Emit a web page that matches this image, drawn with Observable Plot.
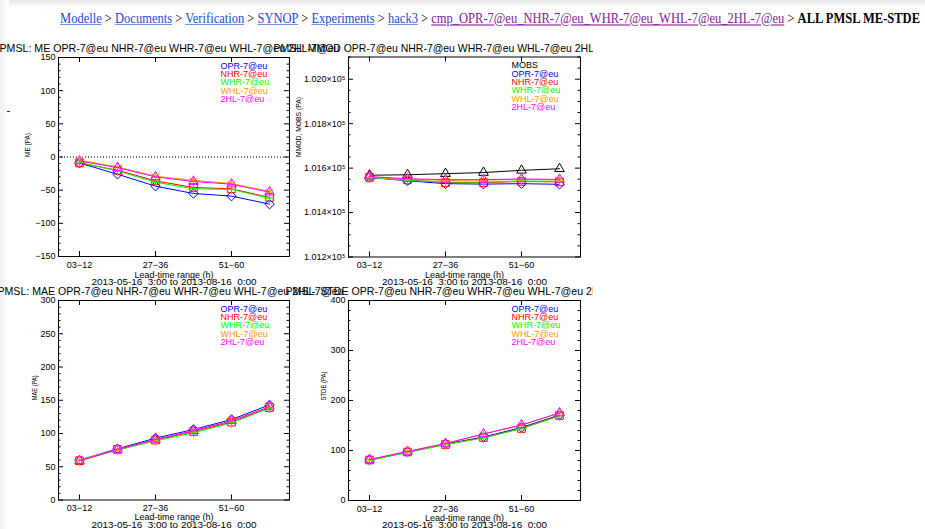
<!DOCTYPE html>
<html><head><meta charset="utf-8">
<script src="https://cdn.jsdelivr.net/npm/d3@7"></script>
<script src="https://cdn.jsdelivr.net/npm/@observablehq/plot@0.6"></script>
<style>
html,body{margin:0;padding:0;background:#fff;}
#page{position:relative;width:925px;height:529px;overflow:hidden;background:#fff;}
#topshade{position:absolute;left:0;top:0;width:925px;height:7px;background:linear-gradient(#e6e6e6,#ffffff);}
#leftshade{position:absolute;left:0;top:0;width:9px;height:529px;background:linear-gradient(to right,#efefef,#ffffff);}
#crumb{position:absolute;left:60px;top:9px;font-family:"Liberation Serif","Times New Roman",serif;font-size:15px;line-height:18px;white-space:nowrap;transform-origin:0 0;color:#000;}
#crumb a{color:#1a4bd1;text-decoration:underline;text-decoration-color:#6f95e6;}
#crumb a.v{color:#7d2291;text-decoration-color:#c27fd0;text-decoration-thickness:2px;}
#crumb b{font-weight:bold;}
.panel{position:absolute;}
#dash{position:absolute;left:7px;top:111px;width:3px;height:1px;background:#333;}
</style></head>
<body>
<div id="page">
  <div id="topshade"></div>
  <div id="leftshade"></div>
  <div id="crumb"><a>Modelle</a> &gt; <a>Documents</a> &gt; <a>Verification</a> &gt; <a>SYNOP</a> &gt; <a>Experiments</a> &gt; <a>hack3</a> &gt; <a class="v">cmp_OPR-7@eu_NHR-7@eu_WHR-7@eu_WHL-7@eu_2HL-7@eu</a> &gt; <b>ALL PMSL ME-STDE</b></div>
  <div id="dash"></div>
</div>
<script>
// ---------- data ----------
const leadRanges = ["03-12", "15-24", "27-36", "39-48", "51-60", "63-72"];
const labeledLeads = ["03-12", "27-36", "51-60"];
const experiments = ["OPR-7@eu", "NHR-7@eu", "WHR-7@eu", "WHL-7@eu", "2HL-7@eu"];
const obsName = "MOBS";
const dateRange = "2013-05-16  3:00 to 2013-08-16  0:00";
const xTitle = "Lead-time range (h)";

// ME (Pa)
const meOPR = [-9, -26, -44, -55, -59, -71];
const meNHR = [-9, -20, -36, -46, -48, -61];
const meWHR = [-8, -21, -38, -48, -49, -62];
const meWHL = [-5, -15, -29, -35, -40, -52];
const me2HL = [-6, -16, -30, -37, -41, -53];

// MMOD / MOBS (Pa)
const mobs    = [101568, 101570, 101575, 101580, 101590, 101597];
const mmodOPR = [101558, 101543, 101530, 101528, 101530, 101527];
const mmodNHR = [101558, 101547, 101535, 101535, 101540, 101538];
const mmodWHR = [101558, 101545, 101537, 101537, 101542, 101540];
const mmodWHL = [101560, 101550, 101545, 101546, 101549, 101547];
const mmod2HL = [101562, 101552, 101548, 101548, 101551, 101549];

// MAE (Pa)
const maeOPR = [60, 77, 93, 106, 121, 143];
const maeNHR = [59, 76, 90, 103, 117, 139];
const maeWHR = [59, 75, 89, 101, 116, 138];
const maeWHL = [60, 76, 91, 104, 119, 140];
const mae2HL = [59, 76, 91, 104, 119, 140];

// STDE (Pa)
const stdeOPR = [81, 97, 113, 127, 146, 171];
const stdeNHR = [81, 97, 112, 126, 144, 170];
const stdeWHR = [80, 96, 112, 125, 144, 169];
const stdeWHL = [82, 98, 114, 133, 151, 175];
const stde2HL = [82, 98, 114, 133, 151, 175];

// axis ticks
const meTicks = [-150, -100, -50, 0, 50, 100, 150];
const mmodTicks = [101200, 101400, 101600, 101800, 102000];
const maeTicks = [0, 50, 100, 150, 200, 250, 300];
const stdeTicks = [0, 100, 200, 300, 400];

// ---------- styles ----------
const expColors = ["#0000ff", "#ff0000", "#00ff00", "#ff9900", "#ff00ff"];
const expSymbols = ["diamond2", "square", "plus", "asterisk", "triangle2"];
const expR = [4.3, 4.3, 3.2, 4.5, 4.6];

function minorTicks(domain, step, majors) {
  return d3.range(domain[0], domain[1] + step / 2, step).filter(v => !majors.some(m => Math.abs(m - v) < 1e-6));
}

function fitText(svg, str, len) {
  svg.querySelectorAll("text").forEach(t => {
    if (t.textContent === str) {
      t.setAttribute("textLength", len);
      t.setAttribute("lengthAdjust", "spacingAndGlyphs");
    }
  });
}

function makePanel(p) {
  const fw = p.width - p.ml - p.mr, fh = p.height - p.mt - p.mb;
  const marks = [];
  if (p.zeroLine) marks.push(Plot.ruleY([0], {stroke: "black", strokeWidth: 1, strokeDasharray: "1,2"}));
  p.series.forEach(s => {
    const rows = leadRanges.map((lead, i) => ({lead, value: s.values[i]}));
    marks.push(Plot.line(rows, {x: "lead", y: "value", stroke: s.color, strokeWidth: 1}));
    marks.push(Plot.dot(rows, {x: "lead", y: "value", stroke: s.color, fill: "none", symbol: s.symbol, r: s.r, strokeWidth: 1}));
  });
  marks.push(Plot.frame({stroke: "black", strokeWidth: 1}));
  const minors = minorTicks(p.yDomain, p.minorStep, p.yTicks);
  marks.push(Plot.tickY(p.yTicks, {y: d => d, insetRight: fw - 5, stroke: "black"}));
  marks.push(Plot.tickY(p.yTicks, {y: d => d, insetLeft: fw - 5, stroke: "black"}));
  marks.push(Plot.tickY(minors, {y: d => d, insetRight: fw - 2.5, stroke: "black"}));
  marks.push(Plot.tickY(minors, {y: d => d, insetLeft: fw - 2.5, stroke: "black"}));
  marks.push(Plot.tickX(labeledLeads, {x: d => d, insetTop: fh - 5, stroke: "black"}));
  marks.push(Plot.tickX(labeledLeads, {x: d => d, insetBottom: fh - 5, stroke: "black"}));
  marks.push(Plot.axisY({ticks: p.yTicks, tickSize: 0, tickPadding: 3, tickFormat: p.yFormat, label: null, fontSize: 9}));
  marks.push(Plot.axisX({ticks: labeledLeads, tickSize: 0, tickPadding: 5, tickFormat: d => d.replace("-", "\u2212"), label: null, fontSize: 9}));
  marks.push(Plot.text([p.title], {text: d => d, frameAnchor: "top-left", textAnchor: "start", lineAnchor: "middle", dx: p.titleDx, dy: p.titleDy, fontSize: 10.5, fill: "black"}));
  marks.push(Plot.text([p.yTitle], {text: d => d, frameAnchor: "left", lineAnchor: "middle", rotate: -90, dx: -p.yTitleOffset, fontSize: 8, fill: "black"}));
  marks.push(Plot.text([xTitle], {text: d => d, frameAnchor: "bottom", lineAnchor: "middle", dy: p.xTitleDy, fontSize: 8.5, fill: "black"}));
  marks.push(Plot.text([dateRange], {text: d => d, frameAnchor: "bottom", lineAnchor: "middle", dy: p.xTitleDy + 7.3, fontSize: 8.5, fill: "black"}));
  p.legend.forEach((l, i) => {
    marks.push(Plot.text([l.label], {text: d => d, frameAnchor: "top-left", textAnchor: "start", lineAnchor: "middle", dx: p.legendDx, dy: 8.5 + i * 8.3, fontSize: 9, fill: l.color}));
  });
  const svg = Plot.plot({
    width: p.width, height: p.height,
    marginTop: p.mt, marginRight: p.mr, marginBottom: p.mb, marginLeft: p.ml,
    x: {type: "point", domain: leadRanges, padding: 0.5},
    y: {domain: p.yDomain},
    style: {background: "transparent", overflow: p.clip ? "hidden" : "visible", fontFamily: "'Liberation Sans', Arial, sans-serif", fontSize: "9px", whiteSpace: "pre", color: "black"},
    marks
  });
  fitText(svg, p.title, p.titleLen);
  fitText(svg, p.yTitle, p.yTitleLen);
  fitText(svg, xTitle, 79);
  fitText(svg, dateRange, 165);
  const div = document.createElement("div");
  div.className = "panel";
  div.style.left = p.left + "px";
  div.style.top = p.top + "px";
  div.appendChild(svg);
  document.getElementById("page").appendChild(div);
}

const expSeries = vals => vals.map((v, i) => ({values: v, color: expColors[i], symbol: expSymbols[i], r: expR[i]}));
const expLegend = experiments.map((e, i) => ({label: e, color: expColors[i]}));

const left = {left: 0, width: 300, ml: 58, mr: 11, clip: false, legendDx: 162};
const right = {left: 270, width: 323, ml: 78, mr: 13, clip: true, legendDx: 163};

makePanel({...left, top: 40, height: 250, mt: 17, mb: 34,
  yDomain: [-150, 150], yTicks: meTicks, minorStep: 10, yFormat: d3.format(""),
  yTitle: "ME (PA)", yTitleOffset: 31, yTitleLen: 24, zeroLine: true,
  title: "PMSL: ME " + experiments.join(" "), titleDx: -59, titleDy: -9, titleLen: 340, xTitleDy: 18.3,
  series: expSeries([meOPR, meNHR, meWHR, meWHL, me2HL]), legend: expLegend});

makePanel({...right, top: 40, height: 250, mt: 16.5, mb: 33.5,
  yDomain: [101200, 102100], yTicks: mmodTicks, minorStep: 50, yFormat: d => (d / 1e5).toFixed(3) + "\u00d710\u2075",
  yTitle: "MMOD, MOBS (PA)", yTitleOffset: 50, yTitleLen: 60,
  title: "PMSL: MMOD " + experiments.join(" "), titleDx: -75, titleDy: -8.5, titleLen: 352, xTitleDy: 18.3,
  series: [{values: mobs, color: "black", symbol: "triangle2", r: 4.6}].concat(expSeries([mmodOPR, mmodNHR, mmodWHR, mmodWHL, mmod2HL])),
  legend: [{label: obsName, color: "black"}].concat(expLegend)});

makePanel({...left, top: 282.5, height: 250, mt: 17, mb: 33.5,
  yDomain: [0, 300], yTicks: maeTicks, minorStep: 10, yFormat: d3.format(""),
  yTitle: "MAE (PA)", yTitleOffset: 24, yTitleLen: 25,
  title: "PMSL: MAE " + experiments.join(" "), titleDx: -61, titleDy: -8.5, titleLen: 346, xTitleDy: 17.5,
  series: expSeries([maeOPR, maeNHR, maeWHR, maeWHL, mae2HL]), legend: expLegend});

makePanel({...right, top: 282.5, height: 250, mt: 17, mb: 33,
  yDomain: [0, 400], yTicks: stdeTicks, minorStep: 20, yFormat: d3.format(""),
  yTitle: "STDE (PA)", yTitleOffset: 25, yTitleLen: 29,
  title: "PMSL: STDE " + experiments.join(" "), titleDx: -63, titleDy: -8.5, titleLen: 352, xTitleDy: 17.5,
  series: expSeries([stdeOPR, stdeNHR, stdeWHR, stdeWHL, stde2HL]), legend: expLegend});

// fit breadcrumb to its measured span
const crumb = document.getElementById("crumb");
const w = crumb.getBoundingClientRect().width;
crumb.style.transform = `scaleX(${860 / w})`;
</script>
</body></html>
